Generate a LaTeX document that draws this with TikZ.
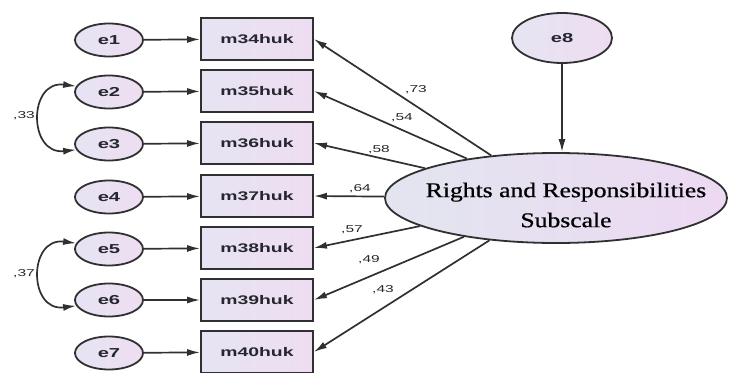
\documentclass[tikz,border=0pt]{standalone}
\usepackage{graphicx}
\usepackage{fontspec}
\setmainfont{Liberation Sans}
\newfontfamily\rrserif[FakeBold=0.6]{Liberation Serif}
\usetikzlibrary{arrows.meta,shapes.geometric}
\definecolor{ln}{HTML}{303030}
\definecolor{txt}{HTML}{26262E}
\definecolor{fillL}{HTML}{E6E4F2}
\definecolor{fillR}{HTML}{EEDDF2}
\definecolor{bigL}{HTML}{E2E5F0}
\definecolor{bigR}{HTML}{EDD9F2}
\newcommand{\sx}[1]{\scalebox{1.55}[1]{#1}}
\newcommand{\sr}[1]{\scalebox{1.22}[1]{#1}}
\tikzset{
  errnode/.style={ellipse, draw=ln, line width=1.8pt, left color=fillL, right color=fillR,
    minimum width=68pt, minimum height=33pt, inner sep=0pt, text=txt,
    font=\bfseries\fontsize{13}{15}\selectfont},
  obsbox/.style={rectangle, draw=ln, line width=1.8pt, left color=fillL, right color=fillR,
    minimum width=112pt, minimum height=42pt, inner sep=0pt, text=txt,
    font=\bfseries\fontsize{12.5}{14}\selectfont},
  latentnode/.style={ellipse, draw=ln, line width=1.8pt, left color=bigL, right color=bigR,
    minimum width=342pt, minimum height=90pt, inner sep=0pt},
  arr/.style={draw=ln, line width=1.7pt, -{Latex[length=13pt,width=7pt]}},
  covarr/.style={draw=ln, line width=1.7pt, {Latex[length=13pt,width=7pt]}-{Latex[length=13pt,width=7pt]}},
  wlab/.style={text=txt, inner sep=0pt, font=\fontsize{10}{12}\selectfont}
}
\begin{document}
\begin{tikzpicture}[x=1pt,y=-1pt]
\useasboundingbox (0,0) rectangle (733,372);
% error terms
\node[errnode] (e1) at (109,40) {\sx{e1}};
\node[errnode] (e2) at (109,92) {\sx{e2}};
\node[errnode] (e3) at (109,144) {\sx{e3}};
\node[errnode] (e4) at (109,197) {\sx{e4}};
\node[errnode] (e5) at (109,249) {\sx{e5}};
\node[errnode] (e6) at (109,300) {\sx{e6}};
\node[errnode] (e7) at (109,353) {\sx{e7}};
% observed
\node[obsbox] (m34) at (257,39) {\sx{m34huk}};
\node[obsbox] (m35) at (257,91) {\sx{m35huk}};
\node[obsbox] (m36) at (257,143) {\sx{m36huk}};
\node[obsbox] (m37) at (257,196) {\sx{m37huk}};
\node[obsbox] (m38) at (257,248) {\sx{m38huk}};
\node[obsbox] (m39) at (257,300) {\sx{m39huk}};
\node[obsbox] (m40) at (257,352) {\sx{m40huk}};
% latent
\node[latentnode, label={[xshift=10pt,yshift=-7pt,align=center,text=black,
  font=\rrserif\fontsize{21}{30}\selectfont]center:{\sr{Rights and Responsibilities}\\\sr{Subscale}}}]
  (lat) at (556,198) {};
\node[errnode, minimum width=100pt, minimum height=50pt] (e8) at (562,38) {\sx{e8}};
% arrows e -> m
\draw[arr] (e1) -- (m34);
\draw[arr] (e2) -- (m35);
\draw[arr] (e3) -- (m36);
\draw[arr] (e4) -- (m37);
\draw[arr] (e5) -- (m38);
\draw[arr] (e6) -- (m39);
\draw[arr] (e7) -- (m40);
% e8 -> latent
\draw[arr] (e8) -- (e8 |- lat.north);
% loadings
\draw[arr] (lat) -- (m34.east);
\draw[arr] (lat) -- (m35.east);
\draw[arr] (lat) -- (m36.east);
\draw[arr] (lat) -- (m37.east);
\draw[arr] (lat) -- (m38.east);
\draw[arr] (lat) -- (m39.east);
\draw[arr] (lat) -- (m40.east);
% covariances
\draw[covarr] (e2.170) .. controls (28,80) and (28,155) .. (e3.190);
\draw[covarr] (e5.170) .. controls (28,237) and (28,312) .. (e6.190);
% weights
\node[wlab] (w1) at (416,90) {\sx{,73}};
\node[wlab] (w2) at (402,118) {\sx{,54}};
\node[wlab] (w3) at (379,150) {\sx{,58}};
\node[wlab] (w4) at (360,189) {\sx{,64}};
\node[wlab] (w5) at (352,230) {\sx{,57}};
\node[wlab] (w6) at (369,260) {\sx{,49}};
\node[wlab] (w7) at (383,290) {\sx{,43}};
\node[wlab] (c1) at (24,116) {\sx{,33}};
\node[wlab] (c2) at (24,274) {\sx{,37}};
\end{tikzpicture}
\end{document}
